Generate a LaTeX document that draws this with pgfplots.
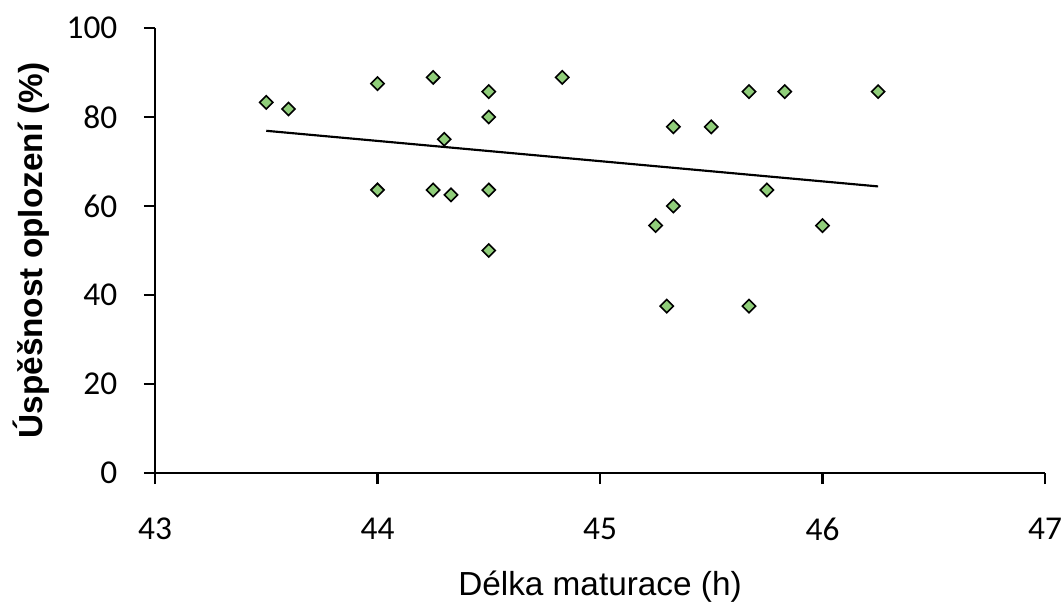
\documentclass[border=0pt]{standalone}
\usepackage{fontspec}
\setmainfont{Liberation Sans}
\newfontfamily\carlito{Carlito}
\usepackage{pgfplots}
\pgfplotsset{compat=1.18}
\definecolor{markgreen}{RGB}{144,206,122}

\begin{document}
\begin{tikzpicture}
\begin{axis}[
    at={(0pt,0pt)}, anchor=south west,
    scale only axis,
    width=667.5pt, height=333.75pt,
    xmin=43, xmax=47,
    ymin=0, ymax=100,
    xtick={43,44,45,46,47},
    ytick={0,20,40,60,80,100},
    axis x line*=bottom,
    axis y line*=left,
    axis line style={-, line width=2.2pt},
    tick align=outside,
    major tick length=8.25pt,
    tick style={black, line width=1.6pt},
    /pgf/number format/assume math mode=true,
    ticklabel style={font=\carlito\fontsize{25}{30}\selectfont},
    xticklabel style={yshift=-22pt},
    yticklabel style={xshift=-16.5pt},
    xlabel={Délka maturace (h)},
    ylabel={Úspěšnost oplození (\%)},
    xlabel style={font=\fontsize{25}{30}\selectfont, at={(axis description cs:0.5,0)}, anchor=center, yshift=-85.5pt},
    ylabel style={font=\bfseries\fontsize{25}{30}\selectfont, at={(axis description cs:0,0.5)}, anchor=center, yshift=93pt},
    clip=false,
]
% namerene body
\addplot[only marks, mark=square*, mark size=3.5pt,
    mark options={rotate=45, fill=markgreen, draw=black, line width=1.2pt}]
    coordinates {
    (43.5,83.3) (43.6,81.8) (44.0,87.5) (44.0,63.6)
    (44.25,88.9) (44.25,63.6) (44.3,75.0) (44.33,62.5)
    (44.5,85.7) (44.5,80.0) (44.5,63.6) (44.5,50.0)
    (44.83,88.9) (45.25,55.6) (45.3,37.5) (45.33,77.8)
    (45.33,60.0) (45.5,77.8) (45.67,85.7) (45.67,37.5)
    (45.75,63.6) (45.83,85.7) (46.0,55.6) (46.25,85.7)
    };
% linearni trend
\addplot[black, line width=1.6pt] coordinates {(43.5,76.9) (46.25,64.4)};
\end{axis}
\pgfresetboundingbox
\path[use as bounding box] (-116.25pt,-100.5pt) rectangle (681.75pt,354.75pt);
\end{tikzpicture}
\end{document}
